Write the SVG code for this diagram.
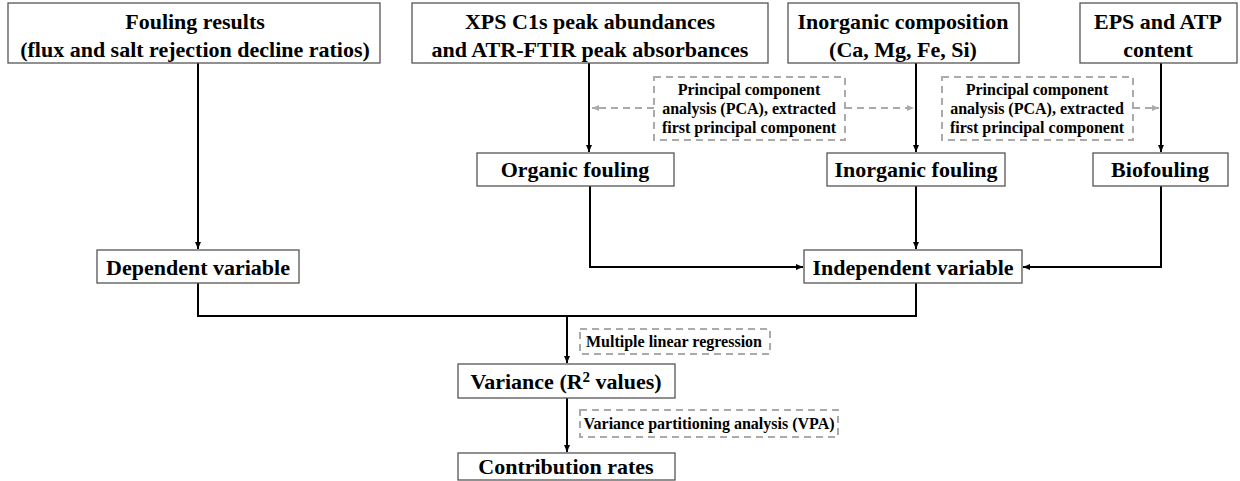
<svg xmlns="http://www.w3.org/2000/svg" width="1240" height="481" viewBox="0 0 1240 481">
<style>
.box{fill:#fff;stroke:#555;stroke-width:1.3}
text{font-family:'Liberation Serif','Times New Roman',serif;font-weight:bold;fill:#000;text-anchor:middle}
.t{font-size:22px}
.s{font-size:16px}
.dbox{fill:none;stroke:#aaa;stroke-width:2;stroke-dasharray:7,5}
.ln{fill:none;stroke:#000;stroke-width:2}
.dl{fill:none;stroke:#aaa;stroke-width:2;stroke-dasharray:7,5}
</style>
<defs>
<marker id="ah" markerWidth="8" markerHeight="8" refX="7" refY="4" orient="auto" markerUnits="userSpaceOnUse"><path d="M0,1 L7,4 L0,7 Z" fill="#000"/></marker>
<marker id="ahg" markerWidth="8" markerHeight="8" refX="7" refY="4" orient="auto" markerUnits="userSpaceOnUse"><path d="M0,1 L7,4 L0,7 Z" fill="#aaa"/></marker>
</defs>
<rect width="1240" height="481" fill="#fff"/>
<g id="connectors">
<path class="ln" d="M198,63 V249" marker-end="url(#ah)"/>
<path class="ln" d="M589,63 V152" marker-end="url(#ah)"/>
<path class="ln" d="M916,63 V152" marker-end="url(#ah)"/>
<path class="ln" d="M1161,63 V152" marker-end="url(#ah)"/>
<path class="ln" d="M590,186 V267 H803" marker-end="url(#ah)"/>
<path class="ln" d="M916,186 V249" marker-end="url(#ah)"/>
<path class="ln" d="M1161,186 V267 H1023" marker-end="url(#ah)"/>
<path class="ln" d="M198,283 V316 H916 V283"/>
<path class="ln" d="M567,316 V363" marker-end="url(#ah)"/>
<path class="ln" d="M567,398 V452" marker-end="url(#ah)"/>
<path class="dl" d="M654,108 H592" marker-end="url(#ahg)"/>
<path class="dl" d="M845,108 H914" marker-end="url(#ahg)"/>
<path class="dl" d="M1133,108 H1159" marker-end="url(#ahg)"/>
</g>
<g id="n-fouling"><rect class="box" x="8" y="3" width="372" height="60"/><text class="t" x="195" y="29" font-family="Liberation Serif, serif">Fouling results</text><text class="t" x="195" y="57">(flux and salt rejection decline ratios)</text></g>
<g id="n-xps"><rect class="box" x="412" y="3" width="356" height="60"/><text class="t" x="590" y="29">XPS C1s peak abundances</text><text class="t" x="590" y="57">and ATR-FTIR peak absorbances</text></g>
<g id="n-inorg"><rect class="box" x="788" y="3" width="231" height="60"/><text class="t" x="903" y="29">Inorganic composition</text><text class="t" x="903" y="57">(Ca, Mg, Fe, Si)</text></g>
<g id="n-eps"><rect class="box" x="1080" y="3" width="157" height="60"/><text class="t" x="1158" y="29">EPS and ATP</text><text class="t" x="1158" y="57">content</text></g>
<g id="n-pca1"><rect class="dbox" x="654" y="77" width="191" height="63"/><text class="s" x="749" y="95">Principal component</text><text class="s" x="749" y="114">analysis (PCA), extracted</text><text class="s" x="749" y="133">first principal component</text></g>
<g id="n-pca2"><rect class="dbox" x="942" y="77" width="191" height="63"/><text class="s" x="1037" y="95">Principal component</text><text class="s" x="1037" y="114">analysis (PCA), extracted</text><text class="s" x="1037" y="133">first principal component</text></g>
<g id="n-organic"><rect class="box" x="477" y="153" width="197" height="33"/><text class="t" x="575" y="177">Organic fouling</text></g>
<g id="n-inorganic"><rect class="box" x="827" y="153" width="178" height="33"/><text class="t" x="916" y="177">Inorganic fouling</text></g>
<g id="n-bio"><rect class="box" x="1093" y="153" width="135" height="33"/><text class="t" x="1160" y="177">Biofouling</text></g>
<g id="n-dep"><rect class="box" x="97" y="250" width="202" height="33"/><text class="t" x="198" y="275">Dependent variable</text></g>
<g id="n-indep"><rect class="box" x="804" y="250" width="218" height="33"/><text class="t" x="913" y="275">Independent variable</text></g>
<g id="n-mlr"><rect class="dbox" x="580" y="329" width="190" height="25"/><text class="s" x="674" y="347">Multiple linear regression</text></g>
<g id="n-var"><rect class="box" x="458" y="364" width="217" height="34"/><text class="t" x="566" y="389">Variance (R<tspan font-size="15" dy="-7">2</tspan><tspan dy="7"> values)</tspan></text></g>
<g id="n-vpa"><rect class="dbox" x="580" y="410" width="258" height="27"/><text class="s" x="709" y="429">Variance partitioning analysis (VPA)</text></g>
<g id="n-contrib"><rect class="box" x="458" y="453" width="217" height="27"/><text class="t" x="566" y="474">Contribution rates</text></g>
</svg>
